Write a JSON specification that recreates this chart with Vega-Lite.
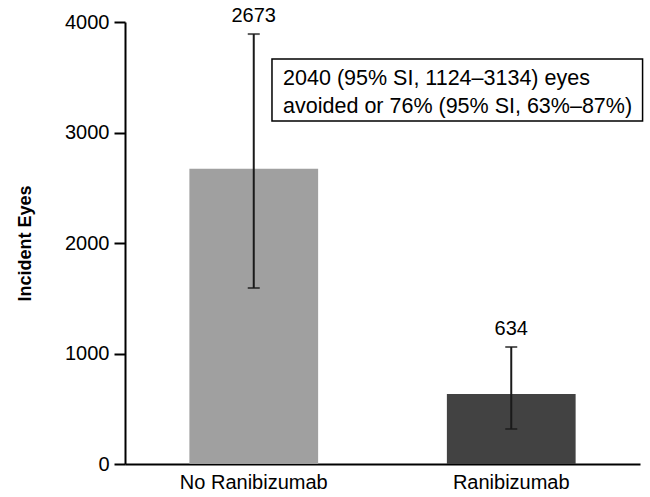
{
  "$schema": "https://vega.github.io/schema/vega-lite/v6.json",
  "width": 515,
  "height": 442,
  "autosize": {"type": "none"},
  "padding": {"left": 125, "top": 22, "right": 10, "bottom": 33},
  "background": "white",
  "config": {
    "view": {"stroke": null},
    "font": "Liberation Sans",
    "axis": {"labelColor": "#000", "titleColor": "#000", "domainColor": "#000", "tickColor": "#000", "grid": false}
  },
  "datasets": {
    "bars": [
      {"group": "No Ranibizumab", "value": 2673, "lo": 1593, "hi": 3891},
      {"group": "Ranibizumab", "value": 634, "lo": 317, "hi": 1059}
    ],
    "box": [
      {"x1": 0.2854, "x2": 1.005, "y1": 3104, "y2": 3665}
    ],
    "notes": [
      {"line": "2040 (95% SI, 1124–3134) eyes", "tx": 0.307, "ty": 3430},
      {"line": "avoided or 76% (95% SI, 63%–87%)", "tx": 0.307, "ty": 3176}
    ]
  },
  "layer": [
    {
      "data": {"name": "bars"},
      "layer": [
        {
          "mark": {"type": "bar"},
          "encoding": {
            "x": {"field": "group", "type": "nominal", "sort": null,
              "scale": {"paddingInner": 0.5, "paddingOuter": 0.25},
              "axis": {"title": null, "labelAngle": 0, "labelFontSize": 20, "labelPadding": 8, "ticks": false, "domainWidth": 2}},
            "y": {"field": "value", "type": "quantitative",
              "scale": {"domain": [0, 4000], "nice": false},
              "axis": {"title": "Incident Eyes", "titleFontSize": 18, "titleFontWeight": "bold", "titlePadding": 30, "format": "d",
                "values": [0, 1000, 2000, 3000, 4000], "labelFontSize": 20, "labelPadding": 5, "tickSize": 11, "tickWidth": 2, "domainWidth": 2}},
            "color": {"field": "group", "type": "nominal", "legend": null,
              "scale": {"domain": ["No Ranibizumab", "Ranibizumab"], "range": ["#a0a0a0", "#424242"]}}
          }
        },
        {
          "mark": {"type": "rule", "color": "#1a1a1a", "strokeWidth": 2},
          "encoding": {
            "x": {"field": "group", "type": "nominal", "sort": null},
            "y": {"field": "lo", "type": "quantitative"},
            "y2": {"field": "hi"}
          }
        },
        {
          "mark": {"type": "tick", "color": "#1a1a1a", "size": 12, "thickness": 2},
          "encoding": {
            "x": {"field": "group", "type": "nominal", "sort": null},
            "y": {"field": "lo", "type": "quantitative"}
          }
        },
        {
          "mark": {"type": "tick", "color": "#1a1a1a", "size": 12, "thickness": 2},
          "encoding": {
            "x": {"field": "group", "type": "nominal", "sort": null},
            "y": {"field": "hi", "type": "quantitative"}
          }
        },
        {
          "mark": {"type": "text", "fontSize": 20, "baseline": "alphabetic", "dy": -12, "color": "#000"},
          "encoding": {
            "x": {"field": "group", "type": "nominal", "sort": null},
            "y": {"field": "hi", "type": "quantitative"},
            "text": {"field": "value", "type": "quantitative"}
          }
        }
      ]
    },
    {
      "data": {"name": "box"},
      "mark": {"type": "rect", "fill": "white", "stroke": "#000", "strokeWidth": 1.5},
      "encoding": {
        "x": {"field": "x1", "type": "quantitative", "scale": {"domain": [0, 1]}, "axis": null},
        "x2": {"field": "x2"},
        "y": {"field": "y1", "type": "quantitative"},
        "y2": {"field": "y2"}
      }
    },
    {
      "data": {"name": "notes"},
      "mark": {"type": "text", "fontSize": 21.5, "align": "left", "baseline": "alphabetic", "color": "#000"},
      "encoding": {
        "x": {"field": "tx", "type": "quantitative", "scale": {"domain": [0, 1]}, "axis": null},
        "y": {"field": "ty", "type": "quantitative"},
        "text": {"field": "line", "type": "nominal"}
      }
    }
  ],
  "resolve": {"scale": {"x": "independent", "color": "independent"}}
}
